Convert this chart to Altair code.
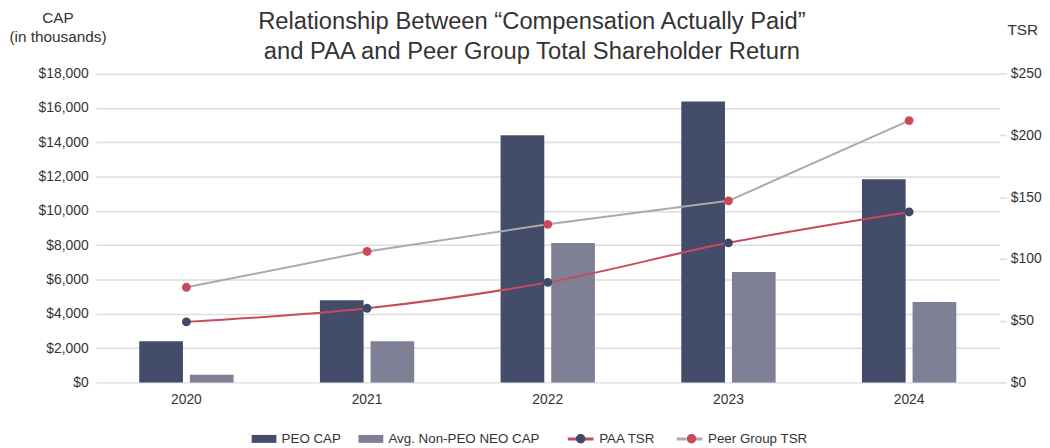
import altair as alt
import pandas as pd

years = ["2020", "2021", "2022", "2023", "2024"]
peo_cap = [2400, 4790, 14410, 16380, 11850]
neo_cap = [440, 2400, 8130, 6440, 4690]
paa_tsr = [49, 60, 81, 113, 138]
peer_tsr = [77, 106, 128, 147, 212]

bar_series = ["PEO CAP", "Avg. Non-PEO NEO CAP"]
bar_colors = ["#434c68", "#7f7f95"]
line_series = ["PAA TSR", "Peer Group TSR"]
line_colors = ["#c94b5b", "#aaaaaa"]
dot_colors = ["#3f4968", "#c94b5b"]

FONT = "Liberation Sans"
TXT = "#333333"
GRID = "#dddddd"

bar_df = pd.DataFrame({
    "year": years * 2,
    "series": [bar_series[0]] * 5 + [bar_series[1]] * 5,
    "cap": peo_cap + neo_cap,
})
tsr_df = pd.DataFrame({
    "year": years * 2,
    "lser": [line_series[0]] * 5 + [line_series[1]] * 5,
    "tsr": paa_tsr + peer_tsr,
})
dot_series = [s + "." for s in line_series]
tsr_df["pser"] = tsr_df["lser"] + "."

x_enc = alt.X(
    "year:N",
    sort=years,
    scale=alt.Scale(paddingInner=0.478, paddingOuter=0.239),
    axis=alt.Axis(title=None, labelAngle=0, domain=False, ticks=False,
                  labelPadding=10, labelFontSize=14, labelColor=TXT, labelFont=FONT),
)

bars = alt.Chart(bar_df).mark_bar().encode(
    x=x_enc,
    xOffset=alt.XOffset("series:N", sort=bar_series,
                        scale=alt.Scale(domain=bar_series, paddingInner=0.137, paddingOuter=0)),
    y=alt.Y("cap:Q", scale=alt.Scale(domain=[0, 18000]),
            axis=alt.Axis(values=list(range(0, 18001, 2000)), format="$,d",
                          title=["CAP", "(in thousands)"], titleAngle=0, titleX=-39, titleY=-64,
                          titleAlign="center", titleBaseline="top", titleFontSize=15.5,
                          titleFontWeight="normal", titleColor=TXT, titleFont=FONT, titleLineHeight=20,
                          grid=True, gridColor=GRID, gridWidth=1.5, domain=False, ticks=False,
                          labelPadding=8, labelFontSize=14, labelColor=TXT, labelFont=FONT)),
    color=alt.Color("series:N", scale=alt.Scale(domain=bar_series, range=bar_colors),
                    legend=alt.Legend(orient="none", legendX=163, legendY=362, direction="horizontal",
                                      title=None, symbolType="M-2.5,-0.8H2.5V0.8H-2.5Z", symbolSize=100,
                                      symbolStrokeWidth=0, labelOffset=11, columnPadding=17,
                                      labelFontSize=13.5, labelColor=TXT, labelFont=FONT, padding=0)),
)

y_tsr = alt.Y("tsr:Q", scale=alt.Scale(domain=[0, 250]),
              axis=alt.Axis(orient="right", values=[0, 50, 100, 150, 200, 250], format="$,d",
                            title="TSR", titleAngle=0, titleX=23, titleY=-52, titleAlign="center",
                            titleBaseline="top", titleFontSize=15.5, titleFontWeight="normal",
                            titleColor=TXT, titleFont=FONT, grid=False, domain=False,
                            ticks=True, tickSize=7, tickColor=GRID, tickWidth=1.5, labelPadding=4,
                            labelFontSize=14, labelColor=TXT, labelFont=FONT))

line_legend = alt.Legend(orient="none", legendX=483, legendY=362, direction="horizontal",
                         title=None, symbolType="M-2.6,0H-0.6M0.6,0H2.6", symbolSize=100,
                         symbolStrokeWidth=3, labelOffset=12, columnPadding=14,
                         labelFontSize=13.5, labelColor=TXT, labelFont=FONT, padding=0)
dot_legend = alt.Legend(orient="none", legendX=483, legendY=362, direction="horizontal",
                        title=None, symbolType="M-0.95,0A0.95,0.95,0,1,0,0.95,0A0.95,0.95,0,1,0,-0.95,0Z",
                        symbolSize=100, symbolStrokeWidth=3, symbolStrokeColor="rgba(0,0,0,0)",
                        labelOffset=12, columnPadding=82, labelExpr="''",
                        labelFontSize=13.5, labelColor=TXT, labelFont=FONT, padding=0)

stroke_enc = alt.Stroke("lser:N", scale=alt.Scale(domain=line_series, range=line_colors),
                        legend=line_legend)

paa_line = alt.Chart(tsr_df).transform_filter(alt.datum.lser == line_series[0]).mark_line(
    strokeWidth=2, interpolate="monotone").encode(x=x_enc, y=y_tsr, stroke=stroke_enc)
peer_line = alt.Chart(tsr_df).transform_filter(alt.datum.lser == line_series[1]).mark_line(
    strokeWidth=2).encode(x=x_enc, y=y_tsr, stroke=stroke_enc)
points = alt.Chart(tsr_df).mark_point(filled=True, size=80, opacity=1).encode(
    x=x_enc, y=y_tsr,
    fill=alt.Fill("pser:N", scale=alt.Scale(domain=dot_series, range=dot_colors), legend=dot_legend),
)

tsr_layer = alt.layer(paa_line, peer_line, points)

chart = alt.layer(bars, tsr_layer).resolve_scale(
    y="independent", color="independent", stroke="independent", fill="independent"
).resolve_legend(color="independent", stroke="independent", fill="independent").properties(
    width=913, height=312,
    padding={"left": 0, "top": 0, "right": 0, "bottom": 0},
    title=alt.TitleParams(
        ["Relationship Between “Compensation Actually Paid”",
         "and PAA and Peer Group Total Shareholder Return"],
        fontSize=24, fontWeight="normal", color=TXT, font=FONT, lineHeight=30,
        anchor="middle", frame="group", dx=-16, offset=-54),
).configure_view(stroke=None)

chart.save("out.html", embed_options={"renderer": "svg", "actions": False})
